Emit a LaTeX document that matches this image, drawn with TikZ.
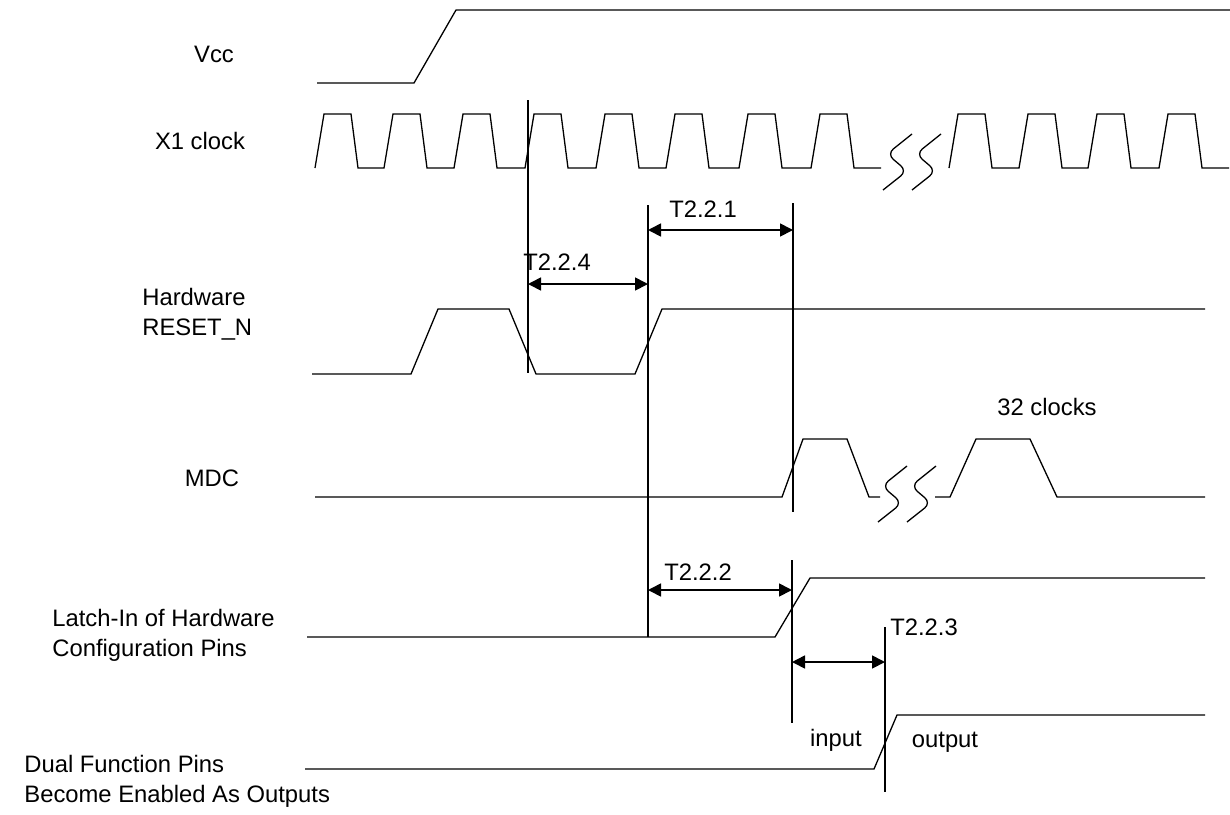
\documentclass[tikz,border=0pt]{standalone}
\usepackage{fontspec}
\setmainfont{Liberation Sans}
\usepackage{tikz}
\usetikzlibrary{arrows.meta,calc}

\begin{document}
\begin{tikzpicture}[x=0.5pt,y=-0.5pt,
  sig/.style={line width=0.65pt},
  marker/.style={line width=0.85pt},
  dimarrow/.style={line width=0.85pt,{Triangle[length=6.5pt,width=6.5pt]}-{Triangle[length=6.5pt,width=6.5pt]}},
  every node/.style={font=\fontsize{11.9}{15}\selectfont,inner sep=0pt}]
\useasboundingbox (0,0) rectangle (1230,814);
% signal names
\node (vcc) at (214,54) {Vcc};
\node (xclk) at (200,141) {X1 clock};
\node[anchor=west,align=left] (rst) at (142,314) {Hardware\\RESET\_N};
\node (mdc) at (212,478) {MDC};
\node[anchor=west,align=left] (latch) at (52,635) {Latch-In of Hardware\\Configuration Pins};
\node[anchor=west,align=left] (dual) at (24,781) {Dual Function Pins\\Become Enabled As Outputs};
% waveforms
\draw[sig] (317,83) -- (414,83) -- (456,10) -- (1230,10);
\draw[sig] (315,168) \foreach \x in {315,384,454,525,596,666,739,811} { -- (\x,168) -- (\x+9,114) -- (\x+36,114) -- (\x+43,168) } -- (881,168);
\draw[sig] (949,168) \foreach \x in {949,1019,1088,1159} { -- (\x,168) -- (\x+9,114) -- (\x+36,114) -- (\x+43,168) } -- (1229,168);
\draw[sig] (312,374) -- (411,374) -- (438,309) -- (509,309) -- (536,374) -- (635,374) -- (662,309) -- (1205,309);
\draw[sig] (315,497) -- (782,497) -- (803,439) -- (847,439) -- (869,497) -- (880,497);
\draw[sig] (935,497) -- (950,497) -- (976,439) -- (1030,439) -- (1057,497) -- (1205,497);
\draw[sig] (307,637) -- (775,637) -- (810,578) -- (1205,578);
\draw[sig] (305,769) -- (874,769) -- (897,715) -- (1205,715);
\foreach \bx/\by in {883/134,878/466}
  \foreach \s in {0,29}
    \draw[sig,rounded corners=4pt] (\bx+\s+29,\by) -- (\bx+\s+4,\by+20) -- (\bx+\s+24,\by+37) -- (\bx+\s,\by+56);
% timing marks
\draw[marker] (528,100) -- (528,373);
\draw[marker] (648,205) -- (648,637);
\draw[marker] (793,203) -- (793,512);
\draw[marker] (792,560) -- (792,723);
\draw[marker] (885,627) -- (885,792);
\coordinate (t4l) at (528,284);
\coordinate (t4r) at (648,284);
\coordinate (t1l) at (648,230);
\coordinate (t1r) at (793,230);
\coordinate (t2l) at (648,590);
\coordinate (t2r) at (792,590);
\coordinate (t3l) at (792,662);
\coordinate (t3r) at (885,662);
\draw[dimarrow] (t4l) -- (t4r);
\draw[dimarrow] (t1l) -- (t1r);
\draw[dimarrow] (t2l) -- (t2r);
\draw[dimarrow] (t3l) -- (t3r);
\node (t224) at (557,262) {T2.2.4};
\node (t221) at (703,209) {T2.2.1};
\node (t222) at (698,572) {T2.2.2};
\node (t223) at (924,627) {T2.2.3};
\node (clk32) at (1047,407) {32 clocks};
\node (inp) at (836,740) {input};
\node (outp) at (945,742) {output};
\end{tikzpicture}
\end{document}
